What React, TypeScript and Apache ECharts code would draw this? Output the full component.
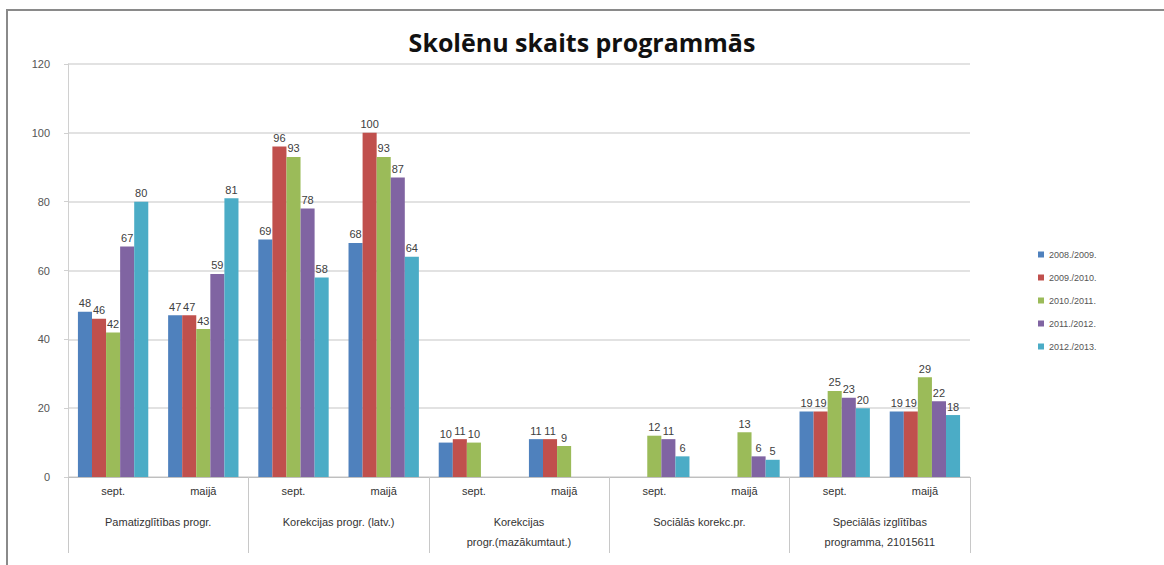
import React, { useEffect, useRef } from "react";
import * as echarts from "echarts";

const title = "Skolēnu skaits programmās";
const subCategories = ["sept.", "maijā", "sept.", "maijā", "sept.", "maijā", "sept.", "maijā", "sept.", "maijā"];
const groups = [
  "Pamatizglītības progr.",
  "Korekcijas progr. (latv.)",
  "Korekcijas\nprogr.(mazākumtaut.)",
  "Sociālās korekc.pr.",
  "Speciālās izglītības\nprogramma, 21015611",
];
const seriesNames = ["2008./2009.", "2009./2010.", "2010./2011.", "2011./2012.", "2012./2013."];
const s2008 = [48, 47, 69, 68, 10, 11, null, null, 19, 19];
const s2009 = [46, 47, 96, 100, 11, 11, null, null, 19, 19];
const s2010 = [42, 43, 93, 93, 10, 9, 12, 13, 25, 29];
const s2011 = [67, 59, 78, 87, null, null, 11, 6, 23, 22];
const s2012 = [80, 81, 58, 64, null, null, 6, 5, 20, 18];
const seriesValues = [s2008, s2009, s2010, s2011, s2012];
const colors = ["#4F81BD", "#C0504D", "#9BBB59", "#8064A2", "#4BACC6"];

export default function App() {
  const ref = useRef<HTMLDivElement>(null);
  useEffect(() => {
    document.body.style.margin = "0";
    const chart = echarts.init(ref.current!, null, { renderer: "svg" });
    const font = "'Liberation Sans', Arial, sans-serif";
    chart.setOption({
      animation: false,
      backgroundColor: "#ffffff",
      color: colors,
      textStyle: { fontFamily: font },
      title: {
        text: title,
        left: "center",
        top: 24,
        textStyle: { fontSize: 25, fontWeight: "bold", color: "#111", fontFamily: "'Open Sans', sans-serif" },
      },
      graphic: [
        {
          type: "rect",
          shape: { x: 7, y: 10, width: 1300, height: 700 },
          style: { fill: "none", stroke: "#8a8a8a", lineWidth: 2 },
          silent: true,
        },
      ],
      legend: {
        orient: "vertical",
        left: 1033,
        top: 245,
        itemWidth: 6,
        itemHeight: 6,
        itemGap: 14,
        icon: "rect",
        data: seriesNames,
        textStyle: { fontSize: 9, color: "#555", fontFamily: font },
      },
      grid: { left: 68, right: 194, top: 64, bottom: 88, containLabel: false },
      xAxis: [
        {
          type: "category",
          data: subCategories,
          position: "bottom",
          axisLine: { show: true, lineStyle: { color: "#bfbfbf", width: 1 } },
          axisTick: { show: false },
          axisLabel: { interval: 0, margin: 8, fontSize: 11, color: "#333", fontFamily: font },
        },
        {
          type: "category",
          data: groups,
          position: "bottom",
          boundaryGap: true,
          axisLine: { show: false },
          axisTick: { show: true, interval: 0, length: 76, lineStyle: { color: "#c8c8c8", width: 1 } },
          axisLabel: { interval: 0, margin: 35, fontSize: 11, lineHeight: 20, color: "#333", fontFamily: font, verticalAlign: "top" },
        },
      ],
      yAxis: {
        type: "value",
        min: 0,
        max: 120,
        interval: 20,
        axisLine: { show: true, lineStyle: { color: "#d0d0d0" } },
        axisTick: { show: true, length: 4, lineStyle: { color: "#d0d0d0" } },
        axisLabel: { margin: 18, fontSize: 11, color: "#555", fontFamily: font },
        splitLine: { show: true, lineStyle: { color: "#d9d9d9", width: 1.5 } },
      },
      series: seriesNames.map((name, i) => ({
        name,
        type: "bar",
        xAxisIndex: 0,
        data: seriesValues[i],
        barGap: "0%",
        barCategoryGap: "22%",
        itemStyle: { color: colors[i] },
        label: {
          show: true,
          position: "top",
          distance: 3,
          fontSize: 11,
          color: "#404040",
          fontFamily: font,
        },
      })),
    });
    return () => chart.dispose();
  }, []);
  return <div ref={ref} style={{ width: 1164, height: 565 }} />;
}
